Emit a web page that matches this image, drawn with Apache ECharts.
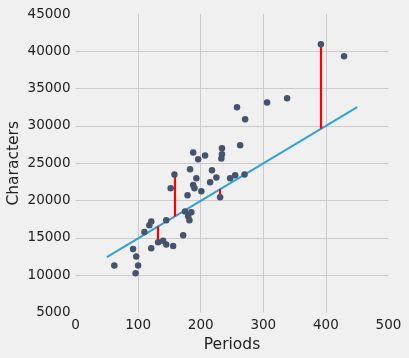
<!DOCTYPE html>
<html>
<head>
<meta charset="utf-8">
<script src="https://cdn.jsdelivr.net/npm/echarts@6/dist/echarts.min.js"></script>
<style>
html,body{margin:0;padding:0;background:#f0f0f0;}
#chart{width:409px;height:358px;}
</style>
</head>
<body>
<div id="chart"></div>
<script>
// Data
const periods = [62, 92, 97, 100, 96, 110, 118, 121, 121, 132, 140, 145, 145, 152, 158, 156, 172, 175, 179, 180, 182, 185, 183, 188, 190, 193, 188, 196, 201, 207, 215, 218, 225, 231, 233, 234, 234, 247, 255, 270, 263, 258, 271, 306, 338, 392, 429];
const characters = [11300, 13500, 12500, 11300, 10250, 15800, 16700, 17200, 13600, 14400, 14600, 14100, 17350, 21650, 23500, 13900, 15350, 18550, 20700, 17900, 17350, 18450, 24200, 22100, 21650, 23000, 26450, 25550, 21250, 26050, 22450, 24050, 23100, 20450, 25650, 26200, 27000, 23000, 23400, 23500, 27400, 32500, 30900, 33150, 33700, 40950, 39350];

// Regression line end points
const fitX = [50, 450];
const fitY = [12430, 32530];

// Residual segments (actual value to fitted value)
const residX = [132, 158, 231, 392];
const residActual = [14400, 23500, 20450, 40950];
const residFitted = [16550, 17860, 21530, 29630];

// Tick labels
const xTicks = [0, 100, 200, 300, 400, 500];
const yTicks = [5000, 10000, 15000, 20000, 25000, 30000, 35000, 40000, 45000];

const font = 'DejaVu Sans';
const chart = echarts.init(document.getElementById('chart'), null, {renderer: 'canvas'});

const scatterData = periods.map((p, i) => [p, characters[i]]);
const fitData = fitX.map((x, i) => [x, fitY[i]]);
const residData = residX.map((x, i) => ({coords: [[x, residActual[i]], [x, residFitted[i]]]}));

chart.setOption({
  backgroundColor: '#f0f0f0',
  animation: false,
  grid: {left: 75.5, right: 20.5, top: 14, bottom: 45.5, containLabel: false, outerBoundsMode: 'none'},
  xAxis: {
    type: 'value',
    min: xTicks[0], max: xTicks[xTicks.length - 1], interval: xTicks[1] - xTicks[0],
    name: 'Periods', nameLocation: 'middle', nameGap: 22,
    nameTextStyle: {fontFamily: font, fontSize: 15.5, color: '#222'},
    axisLine: {show: false}, axisTick: {show: false},
    axisLabel: {fontFamily: font, fontSize: 13.5, color: '#222', margin: 6, formatter: v => String(v)},
    splitLine: {show: true, showMinLine: false, showMaxLine: false, lineStyle: {color: '#cbcbcb', width: 1}}
  },
  yAxis: {
    type: 'value',
    min: yTicks[0], max: yTicks[yTicks.length - 1], interval: yTicks[1] - yTicks[0],
    name: 'Characters', nameLocation: 'middle', nameGap: 62, nameRotate: 90,
    nameTextStyle: {fontFamily: font, fontSize: 15.5, color: '#222', verticalAlign: 'middle'},
    nameMoveOverlap: false,
    axisLine: {show: false}, axisTick: {show: false},
    axisLabel: {fontFamily: font, fontSize: 13.5, color: '#222', margin: 5, formatter: v => String(v)},
    splitLine: {show: true, showMinLine: false, showMaxLine: false, lineStyle: {color: '#cbcbcb', width: 1}}
  },
  series: [
    {
      type: 'line', data: fitData, symbol: 'none', silent: true, z: 2,
      lineStyle: {color: '#30a2da', width: 2}
    },
    {
      type: 'lines', coordinateSystem: 'cartesian2d', data: residData, z: 3, silent: true,
      lineStyle: {color: '#ff0000', width: 2.2, opacity: 1}
    },
    {
      type: 'scatter', data: scatterData, symbol: 'circle', symbolSize: 6.5, z: 4,
      itemStyle: {color: '#44546f', opacity: 1}
    }
  ]
});
</script>
</body>
</html>
